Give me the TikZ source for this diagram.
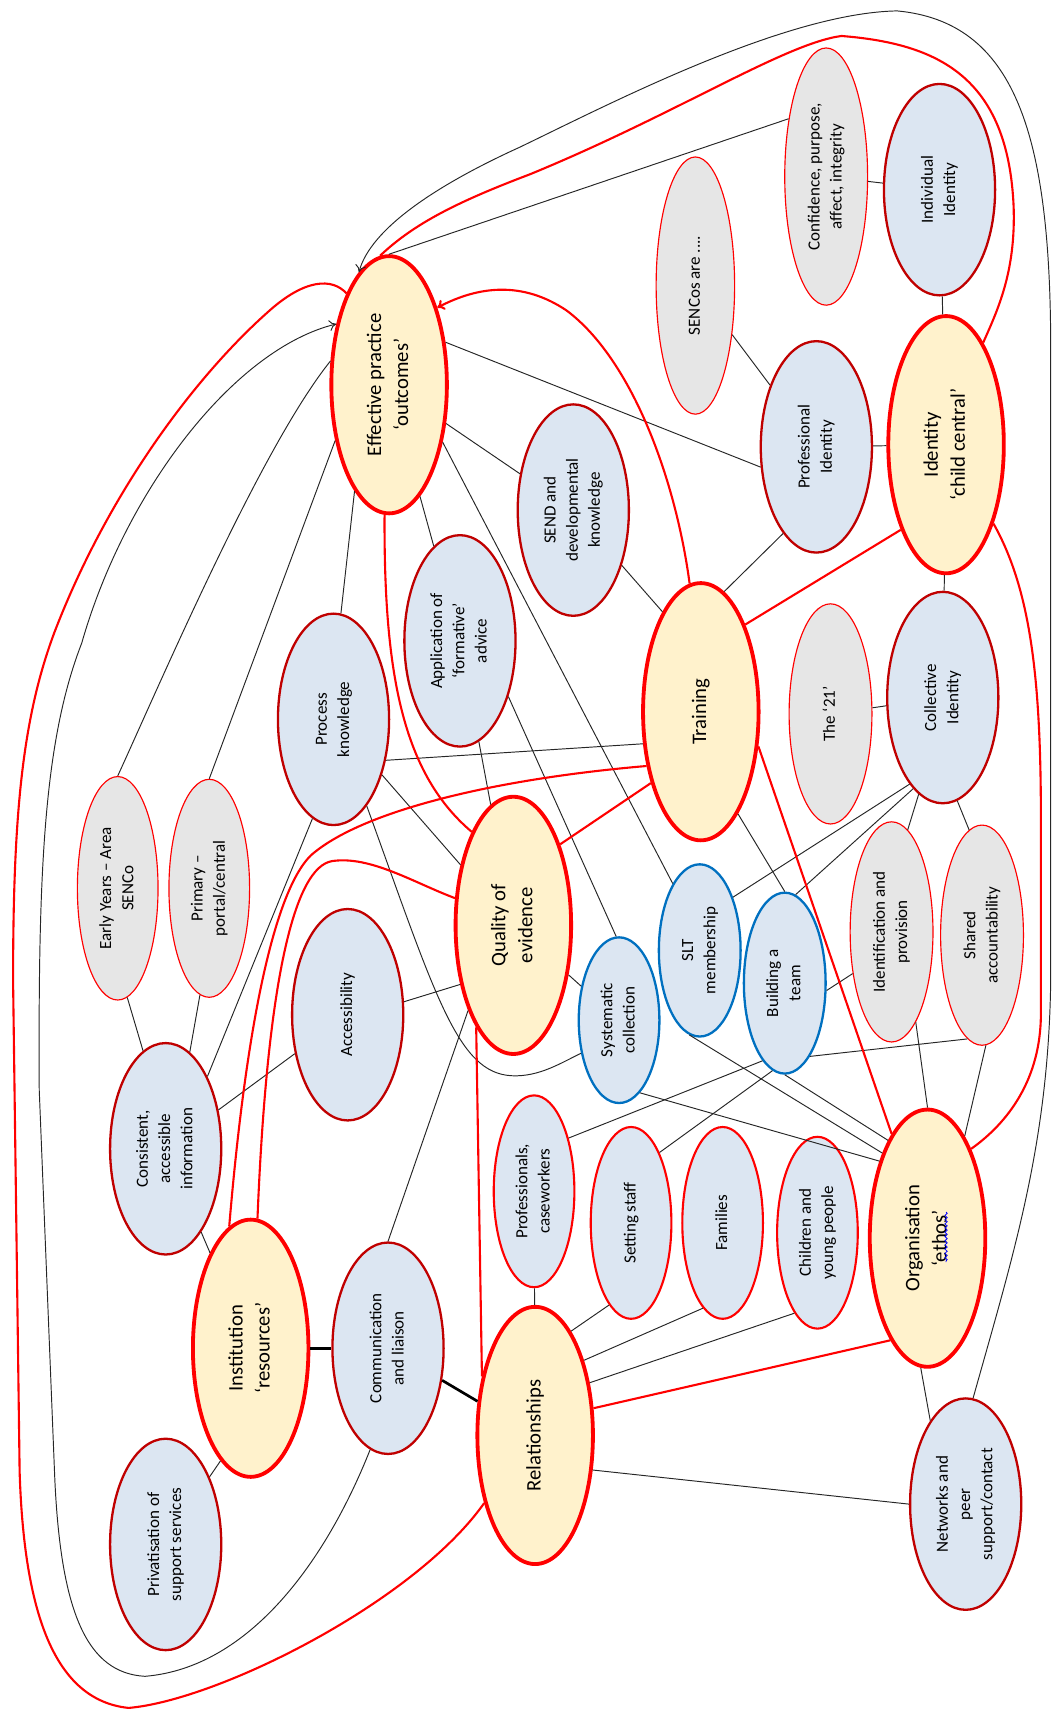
\documentclass[tikz,border=0pt]{standalone}
\usepackage{fontspec}
\setmainfont{Carlito}
\usepackage{graphicx}
\usetikzlibrary{arrows.meta, shapes.geometric, calc, decorations.pathmorphing}
\definecolor{coreline}{HTML}{FF0000}
\definecolor{corefill}{HTML}{FFF2CC}
\definecolor{themeline}{HTML}{C00000}
\definecolor{themefill}{HTML}{DCE6F2}
\definecolor{actline}{HTML}{0070C0}
\definecolor{notefill}{HTML}{E6E6E6}
\newcommand{\vtxt}[1]{\rotatebox{90}{\begin{tabular}{@{}c@{}}#1\end{tabular}}}

\begin{document}
\begin{tikzpicture}[
    x=0.02cm, y=-0.02cm,
    dims/.style 2 args={minimum width=#1*0.02cm, minimum height=#2*0.02cm},
    core/.style={ellipse, draw=coreline, line width=2pt, fill=corefill, inner sep=0pt, dims={106}{236}, font=\fontsize{10.8}{14.1}\selectfont},
    theme/.style={ellipse, draw=themeline, line width=1.2pt, fill=themefill, inner sep=0pt, dims={102}{194}, font=\fontsize{8.9}{11.6}\selectfont},
    people/.style={theme, draw=coreline, line width=1.1pt, dims={74}{176}},
    act/.style={theme, draw=actline, line width=1.2pt},
    note/.style={theme, draw=coreline, line width=0.6pt, fill=notefill},
    link/.style={draw=black!85, line width=0.5pt},
    strong/.style={draw=black, line width=1.4pt},
    flow/.style={draw=coreline, line width=1.1pt},
    headed/.style={-{To[length=1.3mm, width=2mm]}},
    spell/.style={draw=blue, line width=0.4pt, decorate, decoration={snake, amplitude=0.6pt, segment length=2.2pt}},
]
    \useasboundingbox (0,0) rectangle (970,1568);

    % Core themes
    \node[core] (EP) at (357,353) {\vtxt{Effective practice\\‘outcomes’}};
    \node[core] (ID) at (868,408) {\vtxt{Identity\\‘child central’}};
    \node[core] (TR) at (643,653) {\vtxt{Training}};
    \node[core] (QE) at (471,849) {\vtxt{Quality of\\evidence}};
    \node[core] (OR) at (851,1136) {\vtxt{Organisation\\‘ethos’}};
    \node[core] (IN) at (230,1237) {\vtxt{Institution\\‘resources’}};
    \node[core] (RE) at (491,1317) {\vtxt{Relationships}};

    % Sub-themes
    \node[theme] (IndID) at (862,174) {\vtxt{Individual\\Identity}};
    \node[theme] (ProfID) at (749,410) {\vtxt{Professional\\Identity}};
    \node[theme] (SEND) at (526,468) {\vtxt{SEND and\\developmental\\knowledge}};
    \node[theme] (AppF) at (422,588) {\vtxt{Application of\\‘formative’\\advice}};
    \node[theme] (ProcK) at (306,660) {\vtxt{Process\\knowledge}};
    \node[theme] (ColID) at (865,640) {\vtxt{Collective\\Identity}};
    \node[theme] (Access) at (319,931) {\vtxt{Accessibility}};
    \node[theme] (CAI) at (152,1054) {\vtxt{Consistent,\\accessible\\information}};
    \node[theme] (CL) at (356,1237) {\vtxt{Communication\\and liaison}};
    \node[theme] (Priv) at (152,1417) {\vtxt{Privatisation of\\support services}};
    \node[theme] (Net) at (886,1380) {\vtxt{Networks and\\peer\\support/contact}};

    % People
    \node[people] (Prof) at (490,1093) {\vtxt{Professionals,\\caseworkers}};
    \node[people] (Setting) at (579,1122) {\vtxt{Setting staff}};
    \node[people] (Families) at (663,1122) {\vtxt{Families}};
    \node[people] (CYP) at (750,1131) {\vtxt{Children and\\young people}};

    % Actions
    \node[act, dims={75}{158}] (SLT) at (642,872) {\vtxt{SLT\\membership}};
    \node[act, dims={75}{166}] (Team) at (720,902) {\vtxt{Building a\\team}};
    \node[act, dims={74}{152}] (SysC) at (568,936) {\vtxt{Systematic\\collection}};

    % Notes
    \node[note, dims={72}{236}] (SENCos) at (638,262) {\vtxt{SENCos are ....}};
    \node[note, dims={76}{236}] (Conf) at (758,162) {\vtxt{Confidence, purpose,\\affect, integrity}};
    \node[note, dims={74}{205}] (EY) at (108,815) {\vtxt{Early Years – Area\\SENCo}};
    \node[note, dims={74}{200}] (Prim) at (192,815) {\vtxt{Primary –\\portal/central}};
    \node[note, dims={76}{202}] (T21) at (762,655) {\vtxt{The ‘21’}};
    \node[note, dims={76}{202}] (IdP) at (818,855) {\vtxt{Identification and\\provision}};
    \node[note, dims={76}{202}] (SA) at (901,858) {\vtxt{Shared\\accountability}};

    \draw[spell] ($(OR)+(17,-24)$) -- ($(OR)+(17,22)$);

    % Identity links
    \draw[link] (Conf) -- (IndID);
    \draw[link] (IndID) -- (ID);
    \draw[link] (Conf.123) -- (EP.north);
    \draw[link] (SENCos) -- (ProfID);
    \draw[link] (ProfID) -- (ID);
    \draw[link] (ProfID.200) -- (EP.37);
    \draw[link] (ProfID.249) -- (TR.79);
    \draw[link] (ColID) -- (ID);
    \draw[link] (T21) -- (ColID);
    \draw[link] (ColID.256) -- (IdP.81);
    \draw[link] (ColID.-82) -- (SA.97);
    \draw[link] (ColID.249) -- (SLT.58);
    \draw[link] (ColID.252) -- (Team.83);

    % Knowledge links
    \draw[link] (SEND) -- (EP);
    \draw[link] (SEND) -- (TR.111);
    \draw[link] (AppF) -- (EP);
    \draw[link] (AppF) -- (QE);
    \draw[link] (AppF.-49) -- (SysC.92);
    \draw[link] (EP.-47) -- (SLT.112);
    \draw[link] (ProcK.86) -- (EP.252);
    \draw[link] (ProcK.-38) -- (TR.209);
    \draw[link] (ProcK) -- (QE);
    \draw[link] (ProcK.-69) .. controls (400,915) and (420,985) .. (470,987) .. controls (495,988) and (515,975) .. (SysC.221);
    \draw[link] (ProcK.258) -- (CAI.60);
    \draw[link] (EP.158) .. controls (240,410) and (150,620) .. (EY.north);
    \draw[link] (EP.226) -- (Prim.north);
    \draw[link] (TR.-70) -- (Team.north);

    % Information links
    \draw[link] (EY.-85) -- (CAI.103);
    \draw[link] (Prim.-95) -- (CAI.76);
    \draw[link] (CAI) -- (Access);
    \draw[link] (CAI) -- (IN);
    \draw[link] (Access.13) -- (QE.228);
    \draw[link] (QE) -- (SysC);
    \draw[link] (QE.242) -- (CL.north);
    \draw[strong] (IN) -- (CL);
    \draw[strong] (CL) -- (RE);
    \draw[link] (IN.255) -- (Priv.57);

    % Relationship links
    \draw[link] (RE) -- (Prof);
    \draw[link] (RE.71) -- (Setting.255);
    \draw[link] (RE.57) -- (Families.257);
    \draw[link] (RE.44) -- (CYP.254);
    \draw[link] (RE.-31) -- (Net.west);
    \draw[link] (OR.-93) -- (Net.113);
    \draw[link] (Prof.57) -- (Team.254);
    \draw[link] (Setting.68) -- (Team.262);

    % Organisation links
    \draw[link] (Team.-71) -- (SA.262);
    \draw[link] (Team.-10) -- (IdP.227);
    \draw[link] (SLT.-97) -- (OR.118);
    \draw[link] (Team.south) -- (OR.112);
    \draw[link] (SysC.-74) -- (OR.122);
    \draw[link] (IdP.-75) -- (OR.north);
    \draw[link] (SA.-88) -- (OR.70);

    % Outer loops
    \draw[link, headed] (CL.260) .. controls (300,1430) and (230,1530) .. (133,1538)
        .. controls (80,1535) and (55,1480) .. (50,1350) -- (36,1000)
        .. controls (35,800) and (40,680) .. (75,590)
        .. controls (115,450) and (215,320) .. (EP.131);
    \draw[link, headed] (Net.86) .. controls (930,1150) and (962,1050) .. (964,900) -- (964,320)
        .. controls (964,120) and (930,20) .. (823,10)
        .. controls (720,12) and (560,95) .. (477,135)
        .. controls (400,170) and (340,210) .. (EP.105);

    % Red flows
    \draw[flow] (EP.115) .. controls (305,255) and (280,255) .. (245,287)
        .. controls (180,345) and (100,450) .. (50,580)
        .. controls (20,660) and (12,750) .. (12,900) -- (18,1350)
        .. controls (22,1480) and (50,1560) .. (118,1567)
        .. controls (200,1560) and (380,1470) .. (RE.233);
    \draw[flow] (EP.94) .. controls (380,205) and (420,185) .. (486,160)
        .. controls (620,105) and (720,40) .. (772,33)
        .. controls (860,40) and (925,70) .. (930,190)
        .. controls (932,250) and (915,285) .. (ID.70);
    \draw[flow, headed] (TR.95) .. controls (620,440) and (580,330) .. (520,285)
        .. controls (480,258) and (440,262) .. (EP.58);
    \draw[flow] (EP.268) .. controls (352,620) and (370,710) .. (QE.114);
    \draw[flow] (ID.242) -- (TR.63);
    \draw[flow] (ID.-59) .. controls (945,540) and (955,620) .. (955,750) -- (955,930)
        .. controls (955,990) and (925,1030) .. (OR.64);
    \draw[flow] (TR.-31) -- (OR.109);
    \draw[flow] (TR.235) -- (QE.60);
    \draw[flow] (TR.225) .. controls (450,715) and (330,745) .. (285,785)
        .. controls (250,820) and (225,950) .. (IN.100);
    \draw[flow] (QE.155) .. controls (380,810) and (340,785) .. (305,790)
        .. controls (270,795) and (245,900) .. (IN.87);
    \draw[flow] (QE.250) -- (RE.132);
    \draw[flow] (OR.250) -- (RE.25);

\end{tikzpicture}
\end{document}
